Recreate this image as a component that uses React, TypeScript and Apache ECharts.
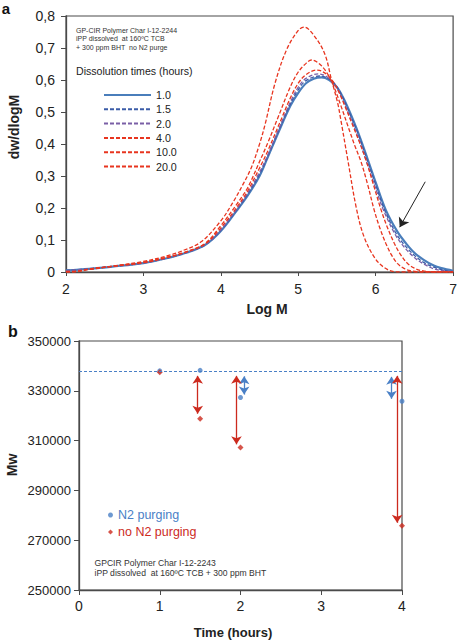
import React, { useEffect, useRef } from "react";
import * as echarts from "echarts";

// ---------- Panel a: molar mass distributions (logM, dw/dlogM) ----------
const curve1_0 = [
  [2.0, 0.005], [2.3, 0.01], [2.6, 0.017], [3.0, 0.028], [3.3, 0.043], [3.55, 0.06], [3.8, 0.085],
  [4.0, 0.128], [4.2, 0.19], [4.35, 0.24], [4.5, 0.3], [4.6, 0.355], [4.75, 0.44], [4.9, 0.52],
  [5.0, 0.56], [5.1, 0.59], [5.2, 0.604], [5.3, 0.608], [5.4, 0.6], [5.5, 0.578], [5.6, 0.535],
  [5.75, 0.45], [5.9, 0.35], [6.0, 0.28], [6.13, 0.194], [6.28, 0.126], [6.39, 0.09], [6.5, 0.06],
  [6.62, 0.038], [6.75, 0.02], [6.85, 0.012], [7.0, 0.004],
];
const curve1_5 = [
  [2.0, 0.005], [2.3, 0.01], [2.6, 0.017], [3.0, 0.028], [3.3, 0.043], [3.55, 0.06], [3.8, 0.085],
  [4.0, 0.13], [4.2, 0.192], [4.35, 0.244], [4.5, 0.305], [4.6, 0.358], [4.75, 0.444], [4.9, 0.526],
  [5.0, 0.57], [5.1, 0.598], [5.27, 0.6125], [5.37, 0.607], [5.47, 0.588], [5.57, 0.548], [5.67, 0.492],
  [5.77, 0.434], [5.89, 0.35], [5.99, 0.28], [6.115, 0.194], [6.26, 0.122], [6.37, 0.085], [6.5, 0.052],
  [6.62, 0.03], [6.75, 0.015], [6.9, 0.005], [7.0, 0.002],
];
const curve2_0 = [
  [2.0, 0.004], [2.3, 0.01], [2.6, 0.017], [3.0, 0.028], [3.3, 0.044], [3.55, 0.061], [3.8, 0.086],
  [4.0, 0.132], [4.2, 0.195], [4.35, 0.248], [4.5, 0.312], [4.6, 0.362], [4.75, 0.448], [4.9, 0.532],
  [5.0, 0.578], [5.1, 0.605], [5.256, 0.619], [5.35, 0.613], [5.45, 0.592], [5.55, 0.55], [5.65, 0.495],
  [5.75, 0.435], [5.88, 0.345], [5.98, 0.275], [6.1, 0.194], [6.25, 0.118], [6.36, 0.08], [6.5, 0.045],
  [6.62, 0.025], [6.75, 0.01], [6.9, 0.003], [7.0, 0.001],
];
const curve4_0 = [
  [2.0, 0.002], [2.1, 0.002], [2.3, 0.009], [2.6, 0.018], [3.0, 0.029], [3.3, 0.045], [3.55, 0.062],
  [3.8, 0.088], [4.0, 0.138], [4.2, 0.2], [4.35, 0.255], [4.5, 0.325], [4.6, 0.375], [4.75, 0.46],
  [4.9, 0.545], [5.0, 0.59], [5.1, 0.617], [5.235, 0.631], [5.3, 0.628], [5.4, 0.61], [5.5, 0.575],
  [5.6, 0.52], [5.7, 0.46], [5.8, 0.4], [5.875, 0.35], [5.95, 0.29], [6.07, 0.194], [6.15, 0.14],
  [6.24, 0.09], [6.32, 0.055], [6.41, 0.027], [6.5, 0.012], [6.6, 0.004], [6.75, 0.0], [7.0, 0.0],
];
const curve10_0 = [
  [2.0, 0.0], [2.1, 0.001], [2.3, 0.009], [2.6, 0.018], [3.0, 0.03], [3.3, 0.046], [3.55, 0.063],
  [3.8, 0.09], [4.0, 0.145], [4.2, 0.21], [4.35, 0.265], [4.5, 0.345], [4.6, 0.4], [4.75, 0.49],
  [4.9, 0.58], [5.0, 0.625], [5.1, 0.652], [5.17, 0.6625], [5.25, 0.655], [5.35, 0.63], [5.45, 0.585],
  [5.55, 0.52], [5.65, 0.45], [5.73, 0.395], [5.81, 0.345], [5.9, 0.27], [5.98, 0.194], [6.05, 0.14],
  [6.13, 0.09], [6.2, 0.055], [6.28, 0.027], [6.36, 0.012], [6.45, 0.004], [6.6, 0.0], [7.0, 0.0],
];
const curve20_0 = [
  [2.0, 0.0], [2.1, 0.0], [2.3, 0.008], [2.6, 0.018], [3.0, 0.033], [3.3, 0.05], [3.5, 0.066],
  [3.75, 0.095], [4.0, 0.16], [4.15, 0.215], [4.3, 0.28], [4.4, 0.33], [4.5, 0.4], [4.57, 0.46],
  [4.7, 0.59], [4.85, 0.695], [5.0, 0.755], [5.077, 0.765], [5.2, 0.74], [5.34, 0.683], [5.43, 0.6],
  [5.51, 0.527], [5.55, 0.475], [5.64, 0.35], [5.75, 0.2], [5.85, 0.11], [6.0, 0.04], [6.15, 0.008],
  [6.3, 0.0], [7.0, 0.0],
];
const curveNames = ["1.0", "1.5", "2.0", "4.0", "10.0", "20.0"];
const curveData = [curve1_0, curve1_5, curve2_0, curve4_0, curve10_0, curve20_0];
const curveColors = ["#4a7ebb", "#3b5ca8", "#7a5fa6", "#e8351f", "#e8351f", "#e8351f"];
const pointerArrow = [[6.64, 0.282], [6.31, 0.14]];

// ---------- Panel b: Mw vs dissolution time ----------
const timeRange = [0, 4];
const timesHours = [1.0, 1.5, 2.0, 4.0];
const mwN2 = [338000, 338200, 327300, 325800];
const mwNoN2 = [337500, 318800, 307200, 275800];
const baselineMw = 338000;
// [time, from Mw, to Mw]
const redArrows = [[1.47, 336000, 320800], [1.95, 336000, 308500], [3.94, 336000, 277000]];
const blueArrows = [[2.045, 335800, 328500], [3.87, 335600, 326800]];

const FONT = "'Liberation Sans', Arial, sans-serif";
const BLUE = "#4a80c6";
const RED = "#cc2a1e";

export default function App() {
  const ref = useRef<HTMLDivElement>(null);

  useEffect(() => {
    document.body.style.margin = "0";
    if (!ref.current) return;
    const chart = echarts.init(ref.current, undefined, { renderer: "svg" });

    const lineSeries = curveNames.map((name, i) => ({
      name,
      type: "line",
      xAxisIndex: 0,
      yAxisIndex: 0,
      data: curveData[i],
      smooth: 0.35,
      showSymbol: false,
      symbol: "none",
      color: curveColors[i],
      lineStyle: {
        color: curveColors[i],
        width: i === 0 ? 2.2 : 1.3,
        type: i === 0 ? "solid" : [4, 2],
      },
      z: 2 + i,
      markLine:
        i === 0
          ? {
              silent: true,
              symbol: ["none", "arrow"],
              symbolSize: 9,
              label: { show: false },
              lineStyle: { color: "#222", width: 1, type: "solid" },
              data: [[{ coord: pointerArrow[0] }, { coord: pointerArrow[1] }]],
            }
          : undefined,
    }));

    const arrowPair = (a: number[]) => [
      { coord: [a[0], a[1]], symbol: "arrow" },
      { coord: [a[0], a[2]], symbol: "arrow" },
    ];

    const option: any = {
      animation: false,
      textStyle: { fontFamily: FONT },
      grid: [
        { left: 66, top: 16, width: 390, height: 256, show: true, borderColor: "#4a4a4a", borderWidth: 1.2 },
        { left: 79, top: 341, width: 323, height: 249, show: true, borderColor: "#4a4a4a", borderWidth: 1.2 },
      ],
      xAxis: [
        {
          gridIndex: 0, type: "value", min: 2, max: 7, interval: 1,
          axisLine: { lineStyle: { color: "#4a4a4a", width: 1.3 } },
          axisTick: { show: true, inside: false, length: 4, lineStyle: { color: "#4a4a4a" } },
          axisLabel: { color: "#222", fontSize: 14, margin: 10, fontFamily: FONT },
          splitLine: { show: false },
        },
        {
          gridIndex: 1, type: "value", min: timeRange[0], max: timeRange[1], interval: 1,
          axisLine: { lineStyle: { color: "#4a4a4a", width: 1.3 } },
          axisTick: { show: true, inside: false, length: 5, lineStyle: { color: "#4a4a4a" } },
          axisLabel: { color: "#222", fontSize: 14, margin: 9, fontFamily: FONT },
          splitLine: { show: false },
        },
      ],
      yAxis: [
        {
          gridIndex: 0, type: "value", min: 0, max: 0.8, interval: 0.1,
          axisLine: { show: true, lineStyle: { color: "#4a4a4a", width: 1.3 } },
          axisTick: { show: true, inside: false, length: 5, lineStyle: { color: "#4a4a4a" } },
          axisLabel: {
            color: "#222", fontSize: 14, margin: 11, fontFamily: FONT,
            formatter: (v: number) => (v === 0 ? "0" : v.toFixed(1).replace(".", ",")),
          },
          splitLine: { show: false },
        },
        {
          gridIndex: 1, type: "value", min: 250000, max: 350000, interval: 20000,
          axisLine: { show: true, lineStyle: { color: "#4a4a4a", width: 1.3 } },
          axisTick: { show: true, inside: false, length: 5, lineStyle: { color: "#4a4a4a" } },
          axisLabel: {
            color: "#222", fontSize: 13, margin: 8, fontFamily: FONT,
            formatter: (v: number) => String(Math.round(v)),
          },
          splitLine: { show: false },
        },
      ],
      legend: [
        {
          data: curveNames,
          orient: "vertical",
          left: 103,
          top: 89,
          itemWidth: 47,
          itemHeight: 12,
          itemGap: 2.3,
          padding: 0,
          selectedMode: false,
          itemStyle: { opacity: 0 },
          textStyle: { color: "#222", fontSize: 10.7, lineHeight: 12, fontFamily: FONT },
        },
        {
          data: [
            { name: "N2 purging", textStyle: { color: BLUE } },
            { name: "no N2 purging", textStyle: { color: RED } },
          ],
          orient: "vertical",
          left: 108,
          top: 508,
          itemWidth: 5,
          itemHeight: 5,
          itemGap: 3,
          padding: 0,
          selectedMode: false,
          textStyle: { fontSize: 12.5, lineHeight: 14, fontFamily: FONT },
        },
      ],
      series: [
        ...lineSeries,
        {
          name: "N2 purging",
          type: "scatter",
          xAxisIndex: 1,
          yAxisIndex: 1,
          symbol: "circle",
          symbolSize: 5,
          itemStyle: { color: BLUE },
          data: timesHours.map((t, i) => [t, mwN2[i]]),
          z: 3,
          markLine: {
            silent: true,
            symbol: ["none", "none"],
            symbolSize: 8,
            label: { show: false },
            lineStyle: { color: BLUE, width: 1.3, type: "solid" },
            data: [
              [
                { coord: [timeRange[0], baselineMw], lineStyle: { type: [3, 2], width: 1.1, color: BLUE } },
                { coord: [timeRange[1], baselineMw] },
              ],
              ...blueArrows.map(arrowPair),
            ],
          },
        },
        {
          name: "no N2 purging",
          type: "scatter",
          xAxisIndex: 1,
          yAxisIndex: 1,
          symbol: "diamond",
          symbolSize: 6,
          itemStyle: { color: RED },
          data: timesHours.map((t, i) => [t, mwNoN2[i]]),
          z: 4,
          markLine: {
            silent: true,
            symbol: ["arrow", "arrow"],
            symbolSize: 8,
            label: { show: false },
            lineStyle: { color: RED, width: 1.3, type: "solid" },
            data: redArrows.map(arrowPair),
          },
        },
      ],
      graphic: [
        { type: "text", x: 6, y: 8, style: { text: "a", font: `bold 15px ${FONT}`, fill: "#111", align: "center", verticalAlign: "middle" } },
        { type: "text", x: 13, y: 331, style: { text: "b", font: `bold 16px ${FONT}`, fill: "#111", align: "center", verticalAlign: "middle" } },
        { type: "text", x: 14, y: 127, rotation: Math.PI / 2, style: { text: "dw/dlogM", font: `bold 14px ${FONT}`, fill: "#222", align: "center", verticalAlign: "middle" } },
        { type: "text", x: 267, y: 309, style: { text: "Log M", font: `bold 14px ${FONT}`, fill: "#222", align: "center", verticalAlign: "middle" } },
        { type: "text", x: 12, y: 465, rotation: Math.PI / 2, style: { text: "Mw", font: `bold 14px ${FONT}`, fill: "#222", align: "center", verticalAlign: "middle" } },
        { type: "text", x: 233, y: 632, style: { text: "Time (hours)", font: `bold 13px ${FONT}`, fill: "#222", align: "center", verticalAlign: "middle" } },
        { type: "text", x: 76, y: 30, style: { text: "GP-CIR Polymer Char I-12-2244", font: `7px ${FONT}`, fill: "#333", align: "left", verticalAlign: "middle" } },
        { type: "text", x: 76, y: 38.5, style: { text: "iPP dissolved  at 160ºC TCB", font: `7px ${FONT}`, fill: "#333", align: "left", verticalAlign: "middle" } },
        { type: "text", x: 76, y: 47, style: { text: "+ 300 ppm BHT  no N2 purge", font: `7px ${FONT}`, fill: "#333", align: "left", verticalAlign: "middle" } },
        { type: "text", x: 76, y: 70.5, style: { text: "Dissolution times (hours)", font: `10.6px ${FONT}`, fill: "#222", align: "left", verticalAlign: "middle" } },
        { type: "text", x: 94.5, y: 562.5, style: { text: "GPCIR Polymer Char I-12-2243", font: `8.6px ${FONT}`, fill: "#333", align: "left", verticalAlign: "middle" } },
        { type: "text", x: 94.5, y: 573, style: { text: "iPP dissolved  at 160ºC TCB + 300 ppm BHT", font: `8.6px ${FONT}`, fill: "#333", align: "left", verticalAlign: "middle" } },
      ],
    };

    chart.setOption(option);
    return () => chart.dispose();
  }, []);

  return <div ref={ref} style={{ width: 460, height: 640 }} />;
}
